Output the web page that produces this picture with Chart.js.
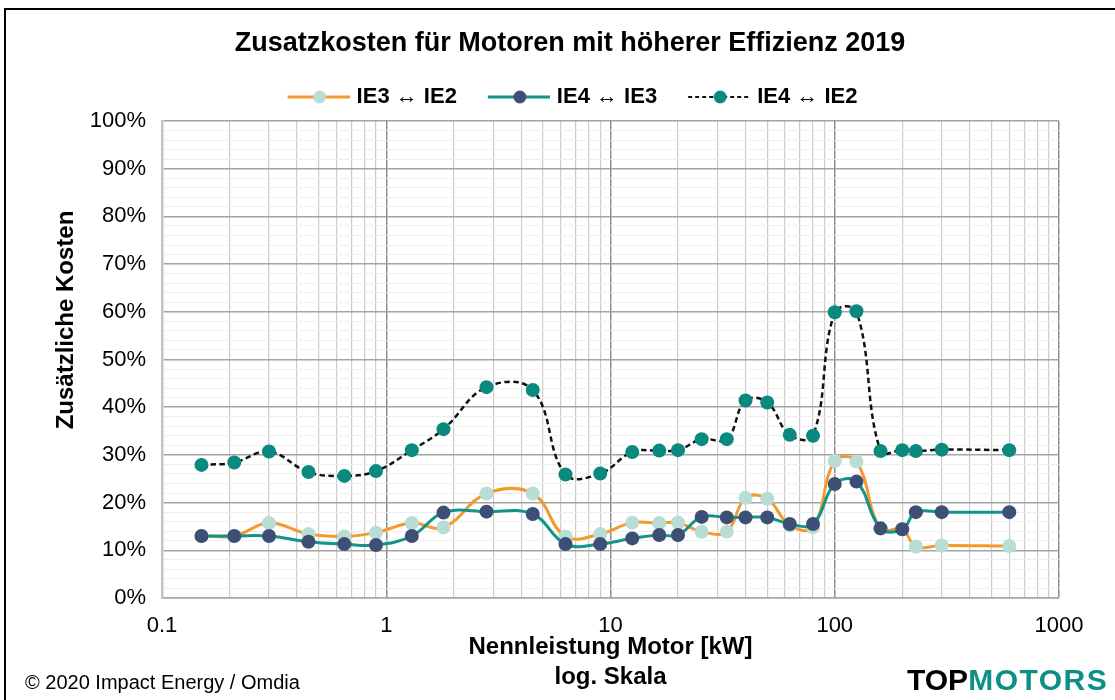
<!DOCTYPE html>
<html>
<head>
<meta charset="utf-8">
<title>Zusatzkosten</title>
<script src="https://cdn.jsdelivr.net/npm/chart.js@4.4.1/dist/chart.umd.min.js"></script>
<style>
  html, body { margin: 0; padding: 0; background: #fff; overflow: hidden; }
  #wrap { position: relative; width: 1115px; height: 700px; overflow: hidden; }
  #frame { position: absolute; left: 4px; top: 8px; width: 1200px; height: 800px; border: 2px solid #000; }
  #myChart { position: absolute; left: 0; top: 0; }
  #copy { position: absolute; left: 25px; top: 671px; font: 20px "Liberation Sans", Arial, sans-serif; color: #000; }
  #logo { position: absolute; left: 907px; top: 663px; font: bold 30px "Liberation Sans", Arial, sans-serif; white-space: nowrap; color: #000; }
  #logo .m { color: #0b8f87; letter-spacing: 1.5px; }
</style>
</head>
<body>
<div id="wrap">
  <div id="frame"></div>
  <canvas id="myChart" width="1115" height="700"></canvas>
  <div id="copy">© 2020 Impact Energy / Omdia</div>
  <div id="logo">TOP<span class="m">MOTORS</span></div>
</div>
<script>
// Nennleistung in kW (log. Skala)
var power = [0.15, 0.21, 0.3, 0.45, 0.65, 0.9, 1.3, 1.8, 2.8, 4.5,
  6.3, 9, 12.5, 16.5, 20, 25.5, 33, 40, 50, 63,
  80, 100, 125, 160, 200, 230, 300, 600];

// Zusatzkosten in %
var ie3ie2 = [13.0, 13.0, 15.7, 13.4, 12.9, 13.7, 15.7, 14.8, 21.9, 21.9,
  12.9, 13.4, 15.8, 15.7, 15.8, 13.9, 13.9, 21.0, 20.8, 15.2,
  14.8, 28.7, 28.6, 14.5, 14.4, 10.8, 11.0, 10.9];
var ie4ie3 = [13.0, 13.0, 13.0, 11.8, 11.3, 11.1, 13.0, 17.9, 18.1, 17.6,
  11.3, 11.3, 12.5, 13.2, 13.2, 17.0, 16.9, 16.9, 16.9, 15.5,
  15.5, 23.9, 24.4, 14.6, 14.4, 18.0, 18.0, 18.0];
var ie4ie2 = [27.9, 28.4, 30.7, 26.4, 25.6, 26.6, 31.0, 35.4, 44.2, 43.6,
  25.9, 26.1, 30.6, 30.9, 31.0, 33.3, 33.3, 41.4, 41.0, 34.2,
  34.0, 59.9, 60.1, 30.8, 31.0, 30.8, 31.1, 31.0];

var seriesNames = ['IE3 \u2194 IE2', 'IE4 \u2194 IE3', 'IE4 \u2194 IE2'];
var xLabels = [0.1, 1, 10, 100, 1000];
var yLabels = [0, 10, 20, 30, 40, 50, 60, 70, 80, 90, 100];

// gridlines on the log axis: 1..9 per decade
var gridKw = [];
[0.1, 1, 10, 100].forEach(function (d) {
  for (var k = 1; k < 10; k++) gridKw.push(+(k * d).toPrecision(3));
});
gridKw.push(1000);

function points(vals) {
  return power.map(function (p, i) { return { x: p, y: vals[i] }; });
}

function isDecade(v) {
  var l = Math.log10(v);
  return Math.abs(l - Math.round(l)) < 1e-6;
}

// legend swatch: line with dot
function swatch(color, width, dash, dot) {
  var c = document.createElement('canvas');
  c.width = 71; c.height = 16;
  var g = c.getContext('2d');
  g.strokeStyle = color; g.lineWidth = width; g.setLineDash(dash);
  g.beginPath(); g.moveTo(9, 8); g.lineTo(71, 8); g.stroke();
  g.setLineDash([]);
  g.fillStyle = dot;
  g.beginPath(); g.arc(41, 8, 6.5, 0, Math.PI * 2); g.fill();
  return c;
}
var swatches = [
  swatch('#f39a2c', 3, [], '#b8ddd5'),
  swatch('#13948b', 3, [], '#3d4f74'),
  swatch('#111', 2, [4, 3], '#0a8a7e')
];

var yTitle = {
  id: 'yTitle',
  afterDraw: function (chart) {
    var c = chart.ctx;
    c.save();
    c.translate(66, 320);
    c.rotate(-Math.PI / 2);
    c.font = 'bold 24px "Liberation Sans", Arial, sans-serif';
    c.fillStyle = '#000';
    c.textAlign = 'center';
    c.textBaseline = 'middle';
    c.fillText('Zusätzliche Kosten', 0, 0);
    c.restore();
  }
};

var ctx = document.getElementById('myChart').getContext('2d');
var myChart = new Chart(ctx, {
  type: 'line',
  data: {
    datasets: [{
      label: seriesNames[0],
      data: points(ie3ie2),
      borderColor: '#f39a2c',
      borderWidth: 3,
      pointBackgroundColor: '#b8ddd5',
      pointBorderWidth: 0,
      pointRadius: 7,
      tension: 0.4,
      order: 3
    }, {
      label: seriesNames[1],
      data: points(ie4ie3),
      borderColor: '#13948b',
      borderWidth: 3,
      pointBackgroundColor: '#3d4f74',
      pointBorderWidth: 0,
      pointRadius: 7,
      tension: 0.4,
      order: 2
    }, {
      label: seriesNames[2],
      data: points(ie4ie2),
      borderColor: '#111',
      borderWidth: 2.5,
      borderDash: [5.5, 3.5],
      pointBackgroundColor: '#0a8a7e',
      pointBorderWidth: 0,
      pointRadius: 7,
      tension: 0.4,
      order: 1
    }]
  },
  options: {
    responsive: false,
    animation: false,
    events: [],
    layout: { padding: { left: 25, right: 0, top: 0, bottom: 0 } },
    plugins: {
      title: {
        display: true,
        text: 'Zusatzkosten für Motoren mit höherer Effizienz 2019',
        color: '#000',
        font: { family: '"Liberation Sans", Arial, sans-serif', size: 27, weight: 'bold' },
        padding: { top: 27.6, bottom: 0 }
      },
      legend: {
        display: true,
        labels: {
          usePointStyle: true,
          pointStyleWidth: 63,
          padding: 26,
          color: '#000',
          font: { family: '"Liberation Sans", Arial, sans-serif', size: 22, weight: 'bold' },
          generateLabels: function (chart) {
            return [0, 1, 2].map(function (i) {
              return {
                text: chart.data.datasets[i].label,
                pointStyle: swatches[i],
                datasetIndex: i,
                fontColor: '#000',
                fillStyle: 'transparent',
                strokeStyle: 'transparent',
                lineWidth: 0,
                hidden: false
              };
            });
          }
        }
      },
      tooltip: { enabled: false }
    },
    scales: {
      x: {
        type: 'logarithmic',
        position: 'bottom',
        min: 0.1,
        max: 1000,
        afterBuildTicks: function (scale) {
          scale.ticks = gridKw.map(function (v) { return { value: v }; });
        },
        afterFit: function (scale) { scale.height = 102; },
        ticks: {
          autoSkip: false,
          maxRotation: 0,
          padding: 15,
          color: '#000',
          font: { family: '"Liberation Sans", Arial, sans-serif', size: 22 },
          callback: function (v) {
            return xLabels.indexOf(v) >= 0 ? String(v) : '';
          }
        },
        grid: {
          drawTicks: false,
          color: function (c) { return isDecade(c.tick.value) ? '#8e8e8e' : '#cbcbcb'; },
          lineWidth: function (c) { return isDecade(c.tick.value) ? 1.5 : 1.2; }
        },
        border: { display: true, color: '#a6a6a6', width: 1.5 },
        title: {
          display: true,
          text: ['Nennleistung Motor [kW]', 'log. Skala'],
          color: '#000',
          font: { family: '"Liberation Sans", Arial, sans-serif', size: 24, weight: 'bold', lineHeight: 1.25 },
          padding: { top: 0, bottom: 8 }
        }
      },
      y: {
        type: 'linear',
        position: 'left',
        min: 0,
        max: 100,
        afterFit: function (scale) { scale.width = 162 - 25; },
        ticks: {
          stepSize: 2,
          autoSkip: false,
          padding: 16,
          color: '#000',
          font: { family: '"Liberation Sans", Arial, sans-serif', size: 22 },
          callback: function (v) {
            return yLabels.indexOf(Math.round(v)) >= 0 && Math.abs(v - Math.round(v)) < 1e-6 ? Math.round(v) + '%' : '';
          }
        },
        grid: {
          drawTicks: false,
          color: function (c) { return Math.round(c.tick.value) % 10 === 0 ? '#a3a3a3' : '#efefef'; },
          lineWidth: function (c) { return Math.round(c.tick.value) % 10 === 0 ? 1.5 : 1; }
        },
        border: { display: true, color: '#c4c4c4', width: 2.5 }
      },
      padTop: {
        type: 'linear',
        position: 'top',
        display: true,
        grid: { display: false },
        ticks: { display: false },
        border: { display: false },
        afterFit: function (scale) { scale.height = 3; }
      },
      padRight: {
        type: 'linear',
        position: 'right',
        display: true,
        grid: { display: false },
        ticks: { display: false },
        border: { display: false },
        afterFit: function (scale) { scale.width = 56; }
      }
    }
  },
  plugins: [yTitle]
});
</script>
</body>
</html>
